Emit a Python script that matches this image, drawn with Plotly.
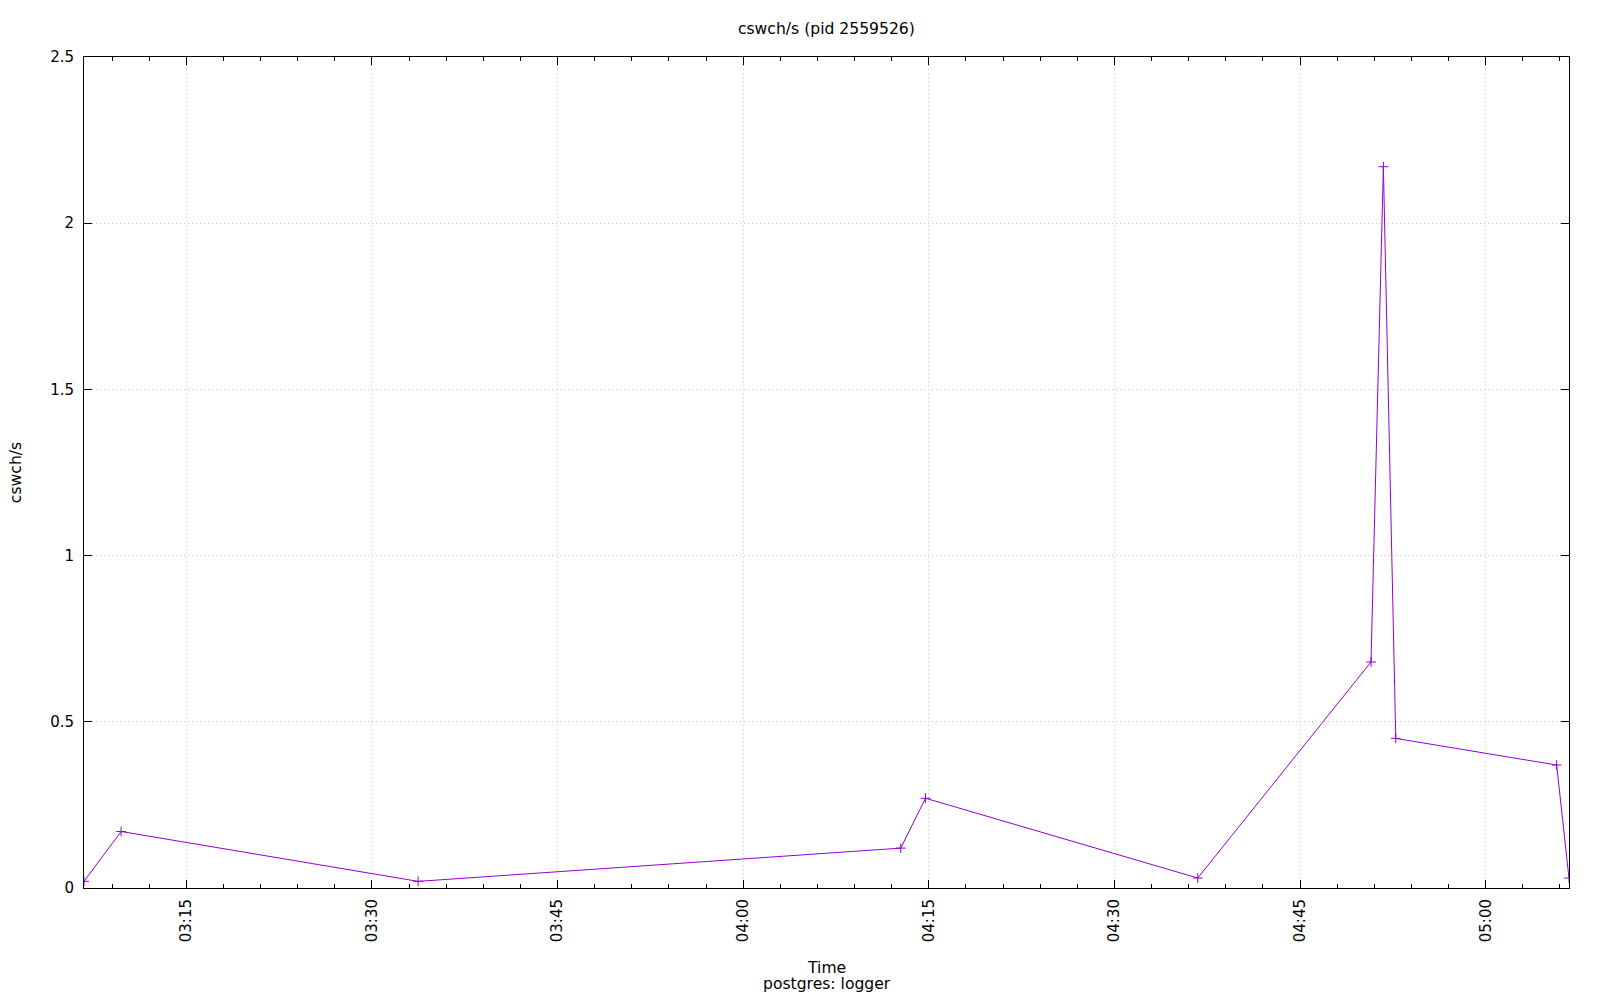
import pandas as pd
import plotly.graph_objects as go

# sample times and context switches per second
times = ["2024-01-01 03:06:44", "2024-01-01 03:09:44", "2024-01-01 03:33:44",
         "2024-01-01 04:12:44", "2024-01-01 04:14:44", "2024-01-01 04:36:44",
         "2024-01-01 04:50:44", "2024-01-01 04:51:44", "2024-01-01 04:52:44",
         "2024-01-01 05:05:44", "2024-01-01 05:06:44"]
cswch = [0.02, 0.17, 0.02, 0.12, 0.27, 0.03, 0.68, 2.17, 0.45, 0.37, 0.03]
y_ticks = [0, 0.5, 1, 1.5, 2, 2.5]
y_labels = ["0", "0.5", "1", "1.5", "2", "2.5"]

t = pd.to_datetime(times)
font = "DejaVu Sans"
purple = "#9400d3"
label_size = 15.6

fig = go.Figure()
fig.add_trace(go.Scatter(
    x=t, y=cswch,
    mode="lines+markers",
    line=dict(color=purple, width=1),
    marker=dict(symbol="cross-thin", size=7, line=dict(color=purple, width=1)),
    showlegend=False,
))

axis_common = dict(
    showline=True, linecolor="black", linewidth=1, mirror="allticks",
    ticks="inside", ticklen=8, tickcolor="black",
    showgrid=True, gridcolor="#c8c8c8", griddash="1px,3px", gridwidth=1,
    zeroline=False,
    tickfont=dict(family=font, size=15, color="black"),
)

fig.update_layout(
    width=1600, height=1000,
    margin=dict(l=84, r=31, t=57, b=112),
    plot_bgcolor="white", paper_bgcolor="white",
    font=dict(family=font, size=label_size, color="black"),
    title=dict(text="cswch/s (pid 2559526)", x=0.5165, xanchor="center",
               y=0.971, yanchor="middle", font=dict(family=font, size=label_size)),
    xaxis=dict(
        **axis_common,
        range=[t[0], t[-1]],
        tickformat="%H:%M",
        dtick=15 * 60 * 1000,
        tick0="2024-01-01 03:00:00",
        tickangle=-90,
        ticklabelstandoff=4,
        minor=dict(ticks="inside", ticklen=4, tickcolor="black",
                   dtick=3 * 60 * 1000, showgrid=False),
    ),
    yaxis=dict(
        **axis_common,
        range=[0, 2.5],
        tickvals=y_ticks, ticktext=y_labels,
        ticklabelstandoff=6,
        title=dict(text="cswch/s", font=dict(family=font, size=label_size), standoff=24),
    ),
)

fig.add_annotation(text="Time", xref="paper", yref="paper", x=0.5, y=-0.096,
                   xanchor="center", yanchor="middle", showarrow=False,
                   font=dict(family=font, size=label_size))
fig.add_annotation(text="postgres: logger", xref="paper", yref="paper", x=0.5, y=-0.115,
                   xanchor="center", yanchor="middle", showarrow=False,
                   font=dict(family=font, size=label_size))

# drop the default page margin so the figure sits at the window corner
fig.write_html("out.html", config={"displayModeBar": False},
               post_script="document.body.style.margin = '0';")
